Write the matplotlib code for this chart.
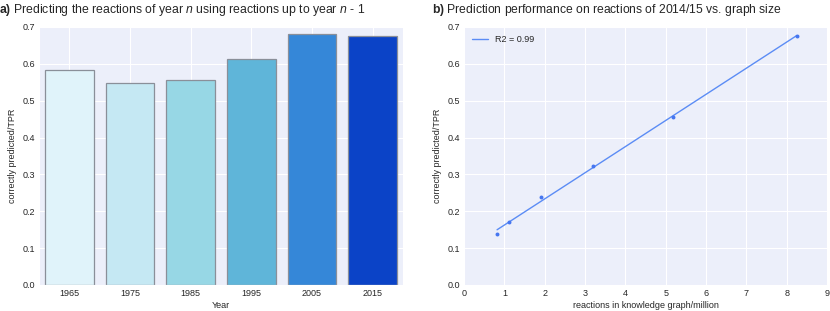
import numpy as np
import matplotlib
matplotlib.use("Agg")
import matplotlib.pyplot as plt
import seaborn as sns

# ------------------------------------------------------------
# Data
# ------------------------------------------------------------
years = ["1965", "1975", "1985", "1995", "2005", "2015"]
tpr_by_year = [0.582, 0.548, 0.555, 0.612, 0.681, 0.676]
bar_colors = ["#e0f3fa", "#c5e8f3", "#97d7e5", "#5fb5d9", "#3587d8", "#0b43c7"]

graph_size = [0.82, 1.12, 1.91, 3.19, 5.18, 8.25]   # million reactions
tpr_2015 = [0.139, 0.171, 0.238, 0.323, 0.455, 0.676]
fit_label = "R2 = 0.99"

# ------------------------------------------------------------
# Style
# ------------------------------------------------------------
sns.set_style("darkgrid", {"axes.facecolor": "#eceffa", "grid.color": "white"})
plt.rcParams["font.family"] = ["Liberation Sans", "DejaVu Sans"]
plt.rcParams["mathtext.fontset"] = "custom"
plt.rcParams["mathtext.rm"] = "Liberation Sans"
plt.rcParams["mathtext.it"] = "Liberation Sans:italic"
plt.rcParams["mathtext.bf"] = "Liberation Sans:bold"

fig = plt.figure(figsize=(8.3, 3.11), dpi=100)
ax1 = fig.add_axes([39 / 830, 1 - 285 / 311, 364 / 830, 258 / 311])
ax2 = fig.add_axes([464 / 830, 1 - 285 / 311, 363 / 830, 258 / 311])

# ------------------------------------------------------------
# a) bars
# ------------------------------------------------------------
xpos = np.arange(len(years))
ax1.bar(xpos, tpr_by_year, width=0.8, color=bar_colors,
        edgecolor="#8a8f99", linewidth=0.9)
ax1.set_xticks(xpos)
ax1.set_xticklabels(years)
ax1.set_xlim(-0.5, 5.5)
ax1.set_ylim(0, 0.7)
ax1.set_yticks(np.arange(0, 0.71, 0.1))
ax1.set_xlabel("Year", fontsize=6.5, labelpad=2)
ax1.set_ylabel("correctly predicted/TPR", fontsize=6.5, labelpad=4)

# ------------------------------------------------------------
# b) scatter + linear fit
# ------------------------------------------------------------
xs = np.array(graph_size)
ys = np.array(tpr_2015)
slope, icpt = np.polyfit(xs, ys, 1)
ax2.plot(xs, slope * xs + icpt, color="#5b8cf5", linewidth=1, label=fit_label)
ax2.scatter(xs, ys, s=8, color="#4676f0", zorder=3, linewidths=0)
ax2.set_xlim(0, 9)
ax2.set_ylim(0, 0.7)
ax2.set_yticks(np.arange(0, 0.71, 0.1))
ax2.set_xticks(range(10))
ax2.set_xlabel("reactions in knowledge graph/million", fontsize=6.5, labelpad=2)
ax2.set_ylabel("correctly predicted/TPR", fontsize=6.5, labelpad=4)
ax2.legend(loc="upper left", fontsize=6.5, frameon=False, handlelength=1.8,
           handletextpad=0.7, borderaxespad=0.5)

for ax in (ax1, ax2):
    ax.tick_params(labelsize=6.5, pad=3, length=0)
    ax.set_yticklabels([f"{v:.1f}" for v in ax.get_yticks()])

# ------------------------------------------------------------
# Titles
# ------------------------------------------------------------
fig.text(-1 / 830, 1 - 10 / 311,
         r"$\bf{a)}$ Predicting the reactions of year $\it{n}$ using reactions up to year $\it{n}$ - 1",
         fontsize=8.8, va="center", ha="left")
fig.text(432 / 830, 1 - 10 / 311,
         r"$\bf{b)}$ Prediction performance on reactions of 2014/15 vs. graph size",
         fontsize=8.7, va="center", ha="left")

fig.savefig("out.png", dpi=100)
